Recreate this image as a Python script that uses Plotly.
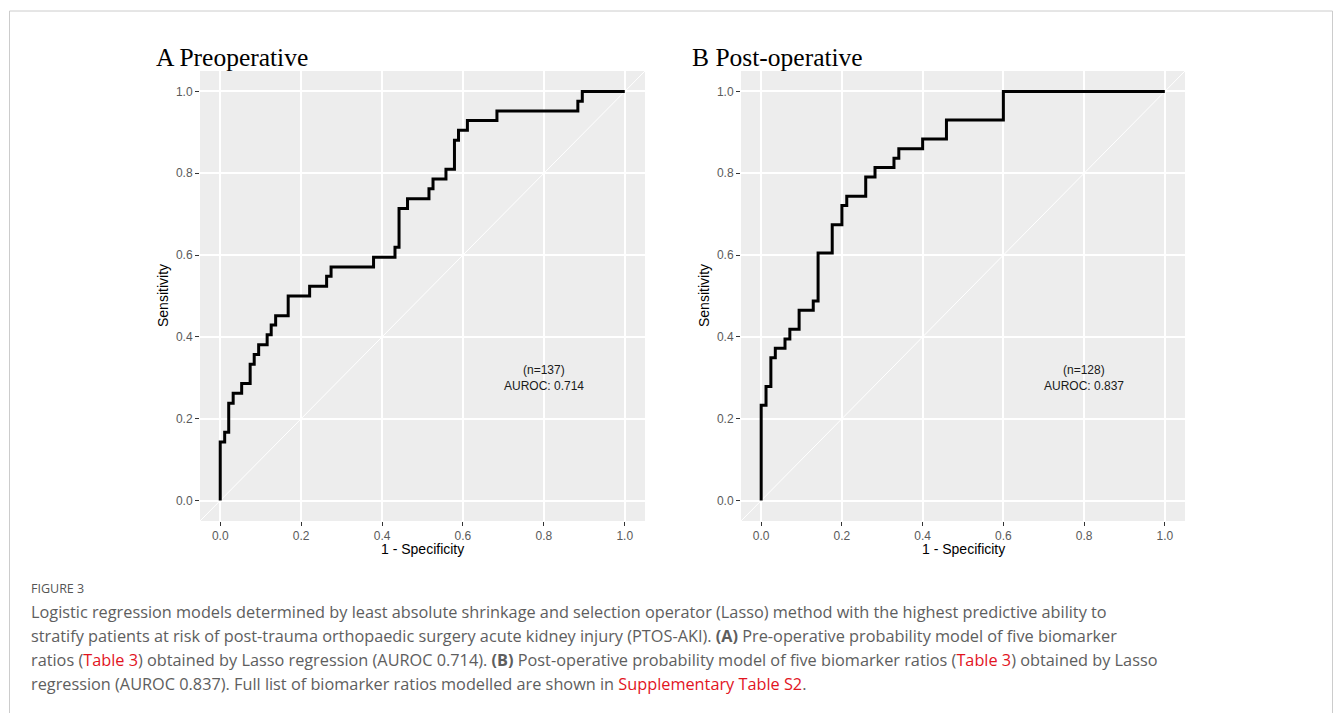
import plotly.graph_objects as go

# ---------------- data ----------------
fpr_a = [0, 0, 0.011, 0.021, 0.032, 0.053, 0.074, 0.084, 0.095, 0.116, 0.126, 0.137,
         0.168, 0.221, 0.263, 0.274, 0.379, 0.432, 0.442, 0.463, 0.516, 0.526, 0.558,
         0.579, 0.589, 0.611, 0.684, 0.884, 0.895, 1.0]
tpr_a = [0, 0.143, 0.167, 0.238, 0.262, 0.286, 0.333, 0.357, 0.381, 0.405, 0.429, 0.452,
         0.500, 0.524, 0.548, 0.571, 0.595, 0.619, 0.714, 0.738, 0.762, 0.786, 0.810,
         0.881, 0.905, 0.929, 0.952, 0.976, 1.0, 1.0]

fpr_b = [0, 0, 0.012, 0.024, 0.035, 0.059, 0.071, 0.094, 0.129, 0.141, 0.176, 0.200,
         0.212, 0.259, 0.282, 0.329, 0.341, 0.400, 0.459, 0.600, 1.0]
tpr_b = [0, 0.233, 0.279, 0.349, 0.372, 0.395, 0.419, 0.465, 0.488, 0.605, 0.674, 0.721,
         0.744, 0.791, 0.814, 0.837, 0.860, 0.884, 0.930, 1.0, 1.0]

panel_titles = ["A Preoperative", "B Post-operative"]
n_labels = ["(n=137)", "(n=128)"]
auroc_labels = ["AUROC: 0.714", "AUROC: 0.837"]
label_x = 0.8
label_y = [0.32, 0.28]
axis_range = [-0.05, 1.05]
tick_vals = [0.0, 0.2, 0.4, 0.6, 0.8, 1.0]
tick_text = ["0.0", "0.2", "0.4", "0.6", "0.8", "1.0"]

RED = "#E2141E"
caption_head = "FIGURE 3"
caption_lines = [
    "Logistic regression models determined by least absolute shrinkage and selection operator (Lasso) method with the highest predictive ability to",
    "stratify patients at risk of post-trauma orthopaedic surgery acute kidney injury (PTOS-AKI). <b>(A)</b> Pre-operative probability model of five biomarker",
    f"ratios (<span style='color:{RED}'>Table 3</span>) obtained by Lasso regression (AUROC 0.714). <b>(B)</b> Post-operative probability model of five biomarker ratios (<span style='color:{RED}'>Table 3</span>) obtained by Lasso",
    f"regression (AUROC 0.837). Full list of biomarker ratios modelled are shown in <span style='color:{RED}'>Supplementary Table S2</span>.",
]

# ---------------- figure ----------------
W, H = 1335, 713
fig = go.Figure()

panels = [("x", "y", fpr_a, tpr_a), ("x2", "y2", fpr_b, tpr_b)]
for xa, ya, fx, ty in panels:
    fig.add_trace(go.Scatter(x=axis_range, y=axis_range, xaxis=xa, yaxis=ya, mode="lines",
                             line=dict(color="white", width=1), hoverinfo="skip",
                             showlegend=False))
    fig.add_trace(go.Scatter(x=fx, y=ty, xaxis=xa, yaxis=ya, mode="lines",
                             line=dict(color="black", width=3, shape="hv"),
                             showlegend=False))

def px_x(v):
    return v / W

def px_y(v):
    return (H - v) / H

dom_a = [px_x(200), px_x(645)]
dom_b = [px_x(741), px_x(1185)]
dom_y = [px_y(521), px_y(71)]

axis_common = dict(range=axis_range, tickvals=tick_vals, ticktext=tick_text,
                   showgrid=True, gridcolor="white", gridwidth=1.7, zeroline=False,
                   ticks="outside", ticklen=4, tickwidth=1, tickcolor="#333333",
                   tickfont=dict(family="Liberation Sans, Arial", size=12, color="#5a5a5a"),
                   showline=False, fixedrange=True)

fig.update_layout(
    width=W, height=H,
    margin=dict(l=0, r=0, t=0, b=0),
    paper_bgcolor="white",
    plot_bgcolor="#EDEDED",
    showlegend=False,
    xaxis=dict(domain=dom_a, anchor="y", **axis_common),
    yaxis=dict(domain=dom_y, anchor="x", **axis_common),
    xaxis2=dict(domain=dom_b, anchor="y2", **axis_common),
    yaxis2=dict(domain=dom_y, anchor="x2", **axis_common),
)

annotations = []
title_x = [154, 690]
xtitle_x = [(200 + 645) / 2, (741 + 1185) / 2]
ytitle_x = [163, 704]
for i, (xa, ya) in enumerate([("x", "y"), ("x2", "y2")]):
    annotations.append(dict(text=panel_titles[i], xref="paper", yref="paper",
                            x=px_x(title_x[i]), y=px_y(57), xanchor="left", yanchor="middle",
                            showarrow=False,
                            font=dict(family="Liberation Serif, Times New Roman", size=25.5,
                                      color="black")))
    annotations.append(dict(text="1 - Specificity", xref="paper", yref="paper",
                            x=px_x(xtitle_x[i]), y=px_y(549), xanchor="center",
                            yanchor="middle", showarrow=False,
                            font=dict(family="Liberation Sans, Arial", size=14, color="black")))
    annotations.append(dict(text="Sensitivity", xref="paper", yref="paper",
                            x=px_x(ytitle_x[i]), y=px_y(296), xanchor="center",
                            yanchor="middle", textangle=-90, showarrow=False,
                            font=dict(family="Liberation Sans, Arial", size=14, color="black")))
    for txt, yy in zip([n_labels[i], auroc_labels[i]], label_y):
        annotations.append(dict(text=txt, xref=xa, yref=ya, x=label_x, y=yy,
                                xanchor="center", yanchor="middle", showarrow=False,
                                font=dict(family="Liberation Sans, Arial", size=12,
                                          color="#1a1a1a")))

annotations.append(dict(text=caption_head, xref="paper", yref="paper", x=px_x(29),
                        y=px_y(588), xanchor="left", yanchor="middle", showarrow=False,
                        font=dict(family="Open Sans", size=12.5, color="#555555")))
for k, line in enumerate(caption_lines):
    annotations.append(dict(text=line, xref="paper", yref="paper", x=px_x(29),
                            y=px_y(611.5 + 24 * k), xanchor="left", yanchor="middle",
                            showarrow=False,
                            font=dict(family="Open Sans", size=16.3, color="#5e5e5e")))
fig.update_layout(annotations=annotations)

# card border
fig.add_shape(type="rect", xref="paper", yref="paper",
              x0=px_x(9.5), x1=px_x(1332.5), y0=-0.02, y1=px_y(11),
              line=dict(color="#CCCCCC", width=1), fillcolor="rgba(0,0,0,0)", layer="below")

fig.write_html("out.html", config={"displayModeBar": False},
               post_script="document.body.style.margin='0';document.body.style.overflow='hidden';")
